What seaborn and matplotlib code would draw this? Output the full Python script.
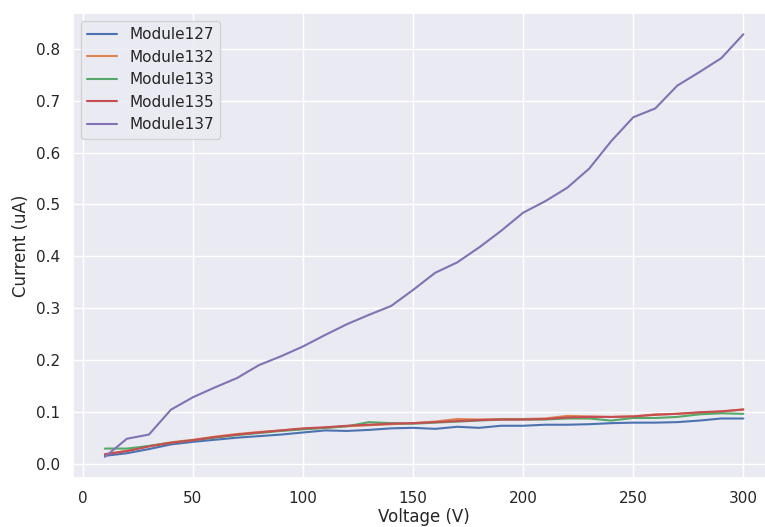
import numpy as np
import pandas as pd
import matplotlib
matplotlib.use("Agg")
import matplotlib.pyplot as plt
import seaborn as sns

voltage = list(range(10, 301, 10))

module127 = [0.015, 0.020, 0.028, 0.037, 0.042, 0.046, 0.050, 0.053, 0.056, 0.060,
             0.064, 0.063, 0.065, 0.068, 0.069, 0.067, 0.071, 0.069, 0.073, 0.073,
             0.075, 0.075, 0.076, 0.078, 0.079, 0.079, 0.080, 0.083, 0.087, 0.087]
module132 = [0.018, 0.025, 0.034, 0.041, 0.046, 0.052, 0.057, 0.061, 0.064, 0.067,
             0.069, 0.072, 0.074, 0.076, 0.078, 0.081, 0.086, 0.085, 0.086, 0.086,
             0.087, 0.092, 0.091, 0.090, 0.091, 0.095, 0.096, 0.098, 0.100, 0.105]
module133 = [0.029, 0.029, 0.034, 0.040, 0.045, 0.050, 0.055, 0.059, 0.063, 0.066,
             0.069, 0.072, 0.080, 0.078, 0.077, 0.079, 0.081, 0.083, 0.085, 0.085,
             0.085, 0.087, 0.087, 0.083, 0.088, 0.088, 0.090, 0.095, 0.097, 0.096]
module135 = [0.018, 0.024, 0.033, 0.040, 0.045, 0.051, 0.056, 0.060, 0.064, 0.068,
             0.070, 0.073, 0.075, 0.077, 0.078, 0.080, 0.082, 0.084, 0.085, 0.085,
             0.086, 0.089, 0.090, 0.090, 0.091, 0.094, 0.096, 0.099, 0.101, 0.104]
module137 = [0.013, 0.048, 0.056, 0.104, 0.128, 0.147, 0.165, 0.190, 0.207, 0.226,
             0.248, 0.269, 0.287, 0.304, 0.335, 0.368, 0.388, 0.417, 0.449, 0.484,
             0.506, 0.532, 0.569, 0.622, 0.668, 0.685, 0.729, 0.755, 0.782, 0.828]

series_names = ["Module127", "Module132", "Module133", "Module135", "Module137"]
series_values = [module127, module132, module133, module135, module137]

sns.set_theme(style="darkgrid")

fig = plt.figure(figsize=(7.65, 5.27), dpi=100)
ax = fig.add_axes([0.0954, 0.093, 0.918, 0.882])

for name, vals in zip(series_names, series_values):
    sns.lineplot(x=voltage, y=vals, label=name, ax=ax)

ax.set_xlabel("Voltage (V)", labelpad=1)
ax.set_ylabel("Current (uA)")
ax.legend(loc="upper left")

fig.savefig("out.png", dpi=100)
